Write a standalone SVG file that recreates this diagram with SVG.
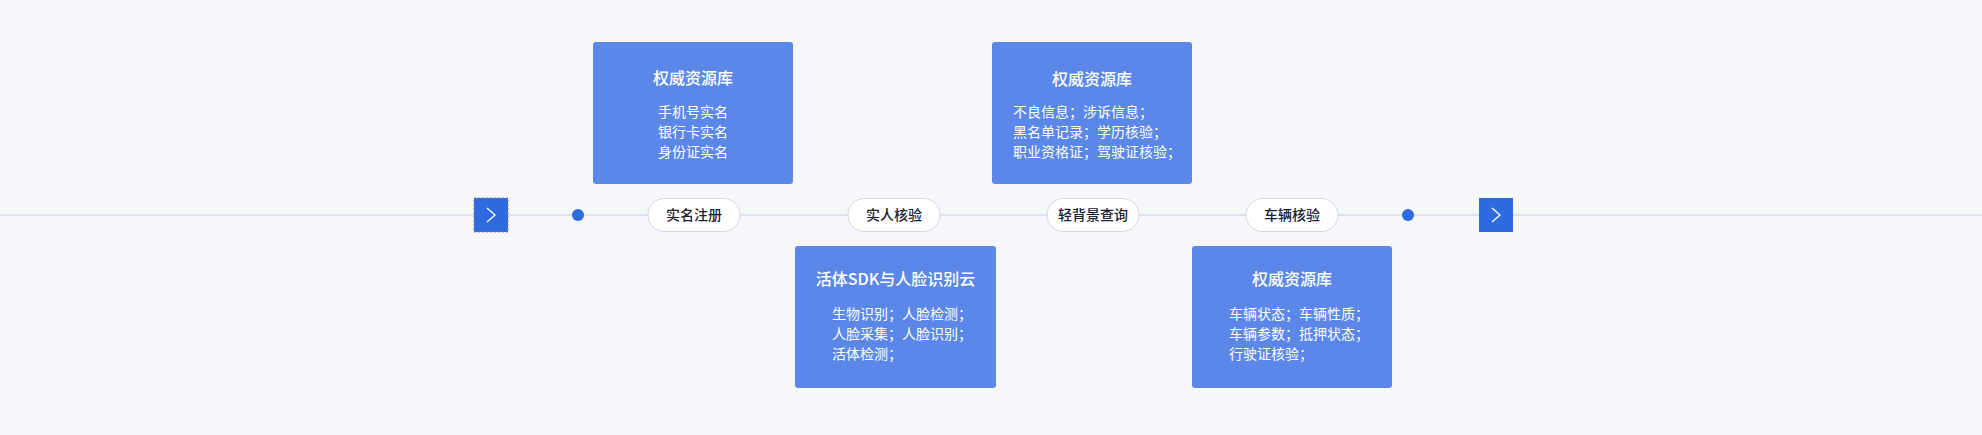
<svg xmlns="http://www.w3.org/2000/svg" width="1982" height="435" viewBox="0 0 1982 435">
<style>
text{font-family:"Noto Sans CJK SC","Noto Sans",sans-serif;}
.box{fill:#5b88e8;}
.ttl{fill:#ffffff;font-size:16px;font-weight:500;text-anchor:middle;}
.ln{fill:#ffffff;font-size:14px;}
.lnc{fill:#ffffff;font-size:14px;text-anchor:middle;}
.pill{fill:#ffffff;stroke:#d3d6e2;stroke-width:1;}
.pt{fill:#1c2033;font-size:14px;font-weight:500;text-anchor:middle;}
.sq{fill:#2f6be0;}
.chev{fill:none;stroke:#ffffff;stroke-width:1.3;}
.dot{fill:#2f6be0;}
</style>
<rect x="0" y="0" width="1982" height="435" fill="#f5f7fb"/>
<g id="connectors">
<line x1="0" y1="215" x2="1982" y2="215" stroke="#c9cbe5" stroke-width="1.2"/>
</g>
<g id="nav-left">
<rect class="sq" x="474" y="198" width="34" height="34" stroke="#7d8296" stroke-width="1" stroke-dasharray="2 2"/>
<polyline class="chev" points="487,208 495,215 487,222"/>
</g>
<g id="nav-right">
<rect class="sq" x="1479" y="198" width="34" height="34"/>
<polyline class="chev" points="1492,208 1500,215 1492,222"/>
</g>
<g id="dot-left"><circle class="dot" cx="578" cy="215" r="6"/></g>
<g id="dot-right"><circle class="dot" cx="1408" cy="215" r="6"/></g>
<g id="step1">
<rect class="pill" x="648" y="198.5" width="92" height="33" rx="16.5"/>
<text class="pt" x="694" y="220">实名注册</text>
</g>
<g id="step2">
<rect class="pill" x="848" y="198.5" width="92" height="33" rx="16.5"/>
<text class="pt" x="894" y="220">实人核验</text>
</g>
<g id="step3">
<rect class="pill" x="1047" y="198.5" width="92" height="33" rx="16.5"/>
<text class="pt" x="1093" y="220">轻背景查询</text>
</g>
<g id="step4">
<rect class="pill" x="1246" y="198.5" width="92" height="33" rx="16.5"/>
<text class="pt" x="1292" y="220">车辆核验</text>
</g>
<g id="box1">
<rect class="box" x="593" y="42" width="200" height="142" rx="3"/>
<text class="ttl" x="693" y="84">权威资源库</text>
<text class="lnc" x="693" y="117">手机号实名</text>
<text class="lnc" x="693" y="137">银行卡实名</text>
<text class="lnc" x="693" y="157">身份证实名</text>
</g>
<g id="box2">
<rect class="box" x="795" y="246" width="201" height="142" rx="3"/>
<text class="ttl" x="895.5" y="285">活体SDK与人脸识别云</text>
<text class="ln" x="832" y="319">生物识别；人脸检测；</text>
<text class="ln" x="832" y="339">人脸采集；人脸识别；</text>
<text class="ln" x="832" y="358.5">活体检测；</text>
</g>
<g id="box3">
<rect class="box" x="992" y="42" width="200" height="142" rx="3"/>
<text class="ttl" x="1092" y="84.5">权威资源库</text>
<text class="ln" x="1013" y="117">不良信息；涉诉信息；</text>
<text class="ln" x="1013" y="137">黑名单记录；学历核验；</text>
<text class="ln" x="1013" y="157">职业资格证；驾驶证核验；</text>
</g>
<g id="box4">
<rect class="box" x="1192" y="246" width="200" height="142" rx="3"/>
<text class="ttl" x="1292" y="285">权威资源库</text>
<text class="ln" x="1229" y="319">车辆状态；车辆性质；</text>
<text class="ln" x="1229" y="339">车辆参数；抵押状态；</text>
<text class="ln" x="1229" y="358.5">行驶证核验；</text>
</g>
</svg>
